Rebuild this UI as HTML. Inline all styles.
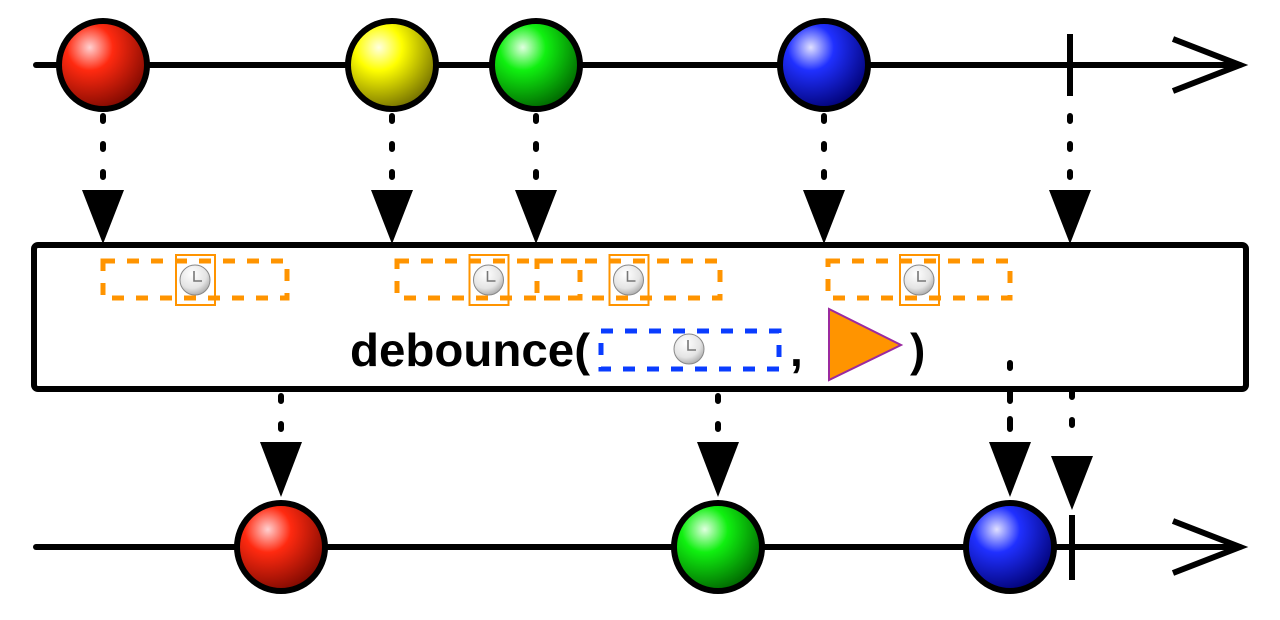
<!DOCTYPE html>
<html><head><meta charset="utf-8"><style>
html,body{margin:0;padding:0;background:#fff;width:1280px;height:620px;overflow:hidden}
svg{display:block}
</style></head><body>
<svg id="c" width="1280" height="620" viewBox="0 0 1280 620" xmlns="http://www.w3.org/2000/svg">
<defs>
<radialGradient id="gred" cx="0.35" cy="0.3" r="0.75"><stop offset="0" stop-color="#ffd0d0"/><stop offset="0.35" stop-color="#ff2a10"/><stop offset="1" stop-color="#7a0800"/></radialGradient>
<radialGradient id="gyellow" cx="0.35" cy="0.3" r="0.75"><stop offset="0" stop-color="#ffffe0"/><stop offset="0.35" stop-color="#ffff00"/><stop offset="1" stop-color="#6e6a00"/></radialGradient>
<radialGradient id="ggreen" cx="0.35" cy="0.3" r="0.75"><stop offset="0" stop-color="#e0ffe0"/><stop offset="0.35" stop-color="#10f010"/><stop offset="1" stop-color="#006000"/></radialGradient>
<radialGradient id="gblue" cx="0.35" cy="0.3" r="0.75"><stop offset="0" stop-color="#e0e0ff"/><stop offset="0.35" stop-color="#2030ff"/><stop offset="1" stop-color="#000070"/></radialGradient>
<radialGradient id="gclock" cx="0.4" cy="0.3" r="0.8"><stop offset="0" stop-color="#ffffff"/><stop offset="0.6" stop-color="#e4e4e4"/><stop offset="1" stop-color="#9a9a9a"/></radialGradient>
</defs>
<g id="layer"></g>
</svg>
<script>
const inputTimes = [103, 392, 536, 824];
const inputColors = ["red", "yellow", "green", "blue"];
const outputTimes = [281, 718, 1010];
const outputColors = ["red", "green", "blue"];
const inputComplete = 1070;
const outputComplete = 1072;
const timerStarts = [103, 397, 537, 828];
const timerEnds = [287, 580, 720, 1010];

const NS = "http://www.w3.org/2000/svg";
const L = document.getElementById("layer");
function mk(tag, attrs, parent) {
  const e = document.createElementNS(NS, tag);
  for (const k in attrs) e.setAttribute(k, attrs[k]);
  (parent || L).appendChild(e);
  return e;
}
function clock(cx, cy, parent) {
  const g = mk("g", {}, parent);
  
  
  mk("circle", {cx: cx, cy: cy, r: 15, fill: "url(#gclock)", stroke: "#888", "stroke-width": 1}, g);
  mk("path", {d: `M${cx-1} ${cy-9} V${cy+1} H${cx+7}`, fill: "none", stroke: "#777", "stroke-width": 1.6}, g);
}
function dotted(x, y1, y2) {
  const l = mk("line", {x1: x, y1: y1, x2: x, y2: y2, stroke: "#000", "stroke-width": 6, "stroke-linecap": "round", "stroke-dasharray": "5 23"});
  
  
}
function arrowDown(x, yTop, yTip) {
  const p = mk("polygon", {points: `${x-21},${yTop} ${x+21},${yTop} ${x},${yTip}`, fill: "#000"});
  
  
}
function timeline(y, name) {
  const g = mk("g", {});
  
  
  mk("line", {x1: 36, y1: y, x2: 1240, y2: y, stroke: "#000", "stroke-width": 6, "stroke-linecap": "round"}, g);
  mk("polyline", {points: `1173,${y-26} 1240,${y} 1173,${y+26}`, fill: "none", stroke: "#000", "stroke-width": 6}, g);
}
function ball(cx, cy, color, name) {
  const c = mk("circle", {cx: cx, cy: cy, r: 44, fill: `url(#g${color})`, stroke: "#000", "stroke-width": 6});
  
  
}

timeline(65, "source-timeline");
inputTimes.forEach((t, i) => ball(t, 65, inputColors[i], "source-marble-" + inputColors[i]));
const tk1 = mk("line", {x1: inputComplete, y1: 34, x2: inputComplete, y2: 96, stroke: "#000", "stroke-width": 6});



inputTimes.concat([inputComplete]).forEach(t => { dotted(t, 116, 180); arrowDown(t, 190, 244); });

const box = mk("rect", {x: 34, y: 245, width: 1212, height: 144, rx: 4, fill: "#fff", stroke: "#000", "stroke-width": 6});



timerStarts.forEach((s, i) => {
  const e = timerEnds[i];
  const r = mk("rect", {x: s, y: 261, width: e - s, height: 37, fill: "none", stroke: "#ff9400", "stroke-width": 5, "stroke-dasharray": "12 12"});
  
  
  const m = (s + e) / 2;
  const sq = mk("rect", {x: m - 19, y: 255, width: 39, height: 50, fill: "none", stroke: "#ff9400", "stroke-width": 2});
  
  
  clock(m, 280);
});

const tx = mk("text", {x: 350, y: 366, "font-family": "Liberation Sans, sans-serif", "font-weight": "bold", "font-size": 46, fill: "#000", textLength: 240, lengthAdjust: "spacingAndGlyphs"});
tx.textContent = "debounce(";


const br = mk("rect", {x: 601, y: 331, width: 178, height: 38, fill: "none", stroke: "#0a3cff", "stroke-width": 5, "stroke-dasharray": "12 12"});


clock(689, 349);
const cm = mk("text", {x: 790, y: 366, "font-family": "Liberation Sans, sans-serif", "font-weight": "bold", "font-size": 46, fill: "#000"});
cm.textContent = ",";


const tri = mk("polygon", {points: "829,309 829,380 901,345", fill: "#ff9400", stroke: "#9a2aa0", "stroke-width": 2});


const cp = mk("text", {x: 910, y: 366, "font-family": "Liberation Sans, sans-serif", "font-weight": "bold", "font-size": 46, fill: "#000"});
cp.textContent = ")";



dotted(outputTimes[2], 363, 430);
dotted(outputComplete, 392, 440);

outputTimes.forEach(t => { dotted(t, 396, 430); arrowDown(t, 442, 497); });
arrowDown(outputComplete, 456, 510);

timeline(547, "result-timeline");
outputTimes.forEach((t, i) => ball(t, 547, outputColors[i], "result-marble-" + outputColors[i]));
const tk2 = mk("line", {x1: outputComplete, y1: 515, x2: outputComplete, y2: 580, stroke: "#000", "stroke-width": 6});


</script>
</body></html>
